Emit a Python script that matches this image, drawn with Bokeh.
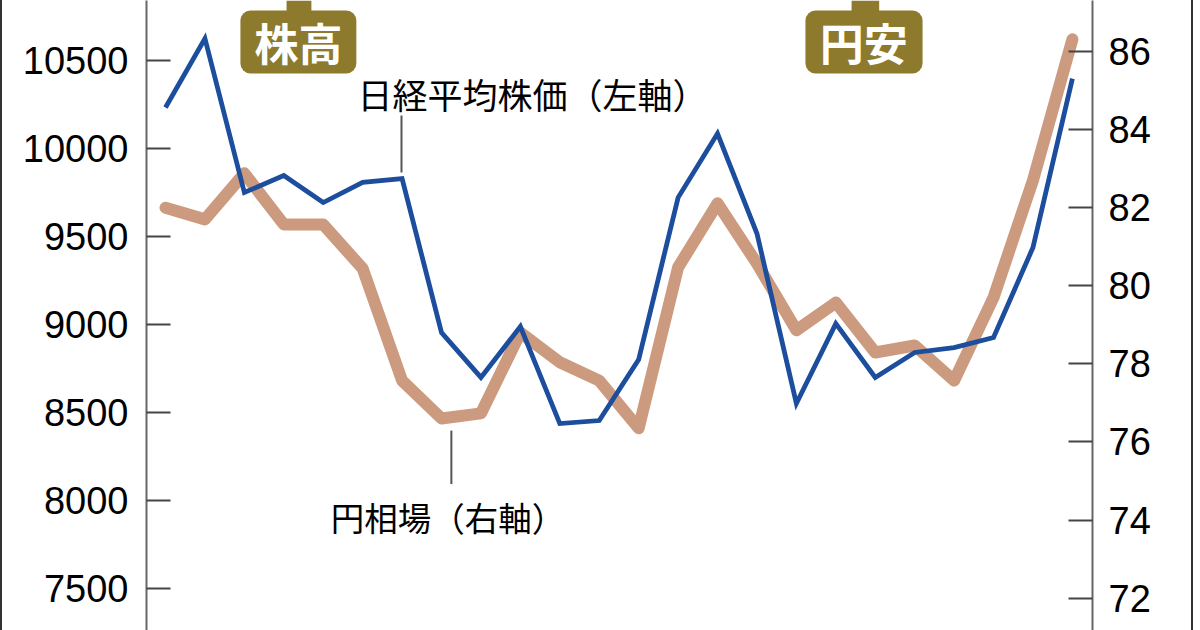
from bokeh.plotting import figure
from bokeh.models import Range1d, LinearAxis, FixedTicker, BoxAnnotation
from bokeh.core.properties import value
from bokeh.embed import file_html
from bokeh.resources import INLINE

# ---- data ----
points = list(range(24))
nikkei = [10235, 10627, 9752, 9848, 9695, 9809, 9831, 8956, 8701, 8990, 8439, 8456,
          8803, 9723, 10087, 9519, 8553, 9007, 8701, 8843, 8871, 8928, 9439, 10399]
yen = [82.00, 81.70, 82.88, 81.57, 81.57, 80.44, 77.57, 76.60, 76.73, 78.80, 78.04, 77.57,
       76.35, 80.47, 82.11, 80.57, 78.86, 79.57, 78.29, 78.47, 77.57, 79.70, 82.70, 86.31]
left_ticks = [7500, 8000, 8500, 9000, 9500, 10000, 10500]
right_ticks = [72, 74, 76, 78, 80, 82, 84, 86]
nikkei_label = "日経平均株価（左軸）"
yen_label = "円相場（右軸）"
badges = ["株高", "円安"]

BLUE = "#1c4e9d"
TAN = "#cc9a7e"
GOLD = "#8d7a2c"
NUM_FONT = "Liberation Sans"
JP_FONT = "Noto Sans CJK JP"

p = figure(width=1193, height=630, output_backend="svg", toolbar_location=None,
           x_range=Range1d(-0.482, 23.51), y_range=Range1d(7263, 10843),
           x_axis_location=None,
           min_border_left=144, min_border_right=103, min_border_top=0, min_border_bottom=0)
p.styles = {"border-left": "2px solid #333", "border-right": "2px solid #333"}
p.outline_line_color = None
p.grid.grid_line_color = None
p.background_fill_color = "white"
p.border_fill_color = "white"

p.extra_y_ranges = {"yen": Range1d(71.17, 87.306)}

def style_axis(ax, standoff):
    ax.major_tick_in = 24
    ax.major_tick_out = 0
    ax.minor_tick_line_color = None
    ax.axis_line_color = "#666666"
    ax.axis_line_width = 2
    ax.major_tick_line_color = "#444444"
    ax.major_tick_line_width = 2
    ax.major_label_text_font = NUM_FONT
    ax.major_label_text_font_size = "38px"
    ax.major_label_text_color = "black"
    ax.major_label_standoff = standoff

# left axis
la = p.yaxis[0]
la.ticker = FixedTicker(ticks=left_ticks)
style_axis(la, 18)

# right axis
ra = LinearAxis(y_range_name="yen", ticker=FixedTicker(ticks=right_ticks))
style_axis(ra, 16)
p.add_layout(ra, "right")

# series
p.line(points, yen, y_range_name="yen", line_color=TAN, line_width=12,
       line_join="round", line_cap="round")
p.line(points, nikkei, line_color=BLUE, line_width=4.8, line_join="miter")

# badges
for left, right, sl, sr in [(1.90, 4.84, 3.07, 3.70), (16.23, 19.20, 17.40, 18.10)]:
    p.add_layout(BoxAnnotation(left=sl, right=sr, bottom=10700, top=None,
                               fill_color=GOLD, fill_alpha=1, line_color=None,
                               level="underlay"))
    p.add_layout(BoxAnnotation(left=left, right=right, bottom=10428, top=10786,
                               fill_color=GOLD, fill_alpha=1, line_color=None,
                               border_radius=10, level="underlay"))
p.text(x=[3.37, 17.71], y=[10607, 10607], text=badges,
       text_font=value(JP_FONT), text_font_size="44px", text_font_style="bold",
       text_color="white", text_align="center", text_baseline="middle")

# series labels and leaders
p.text(x=[4.87], y=[10314], text=[nikkei_label], text_font=value(JP_FONT),
       text_font_size="35px", text_color="black", text_align="left", text_baseline="middle")
p.line([5.985, 5.985], [10189, 9865], line_color="#555555", line_width=2)
p.text(x=[4.19], y=[7908], text=[yen_label], text_font=value(JP_FONT),
       text_font_size="33.5px", text_color="black", text_align="left", text_baseline="middle")
p.line([7.25, 7.25], [8399, 8095], line_color="#555555", line_width=2)

open("out.html", "w").write(file_html(p, INLINE))
